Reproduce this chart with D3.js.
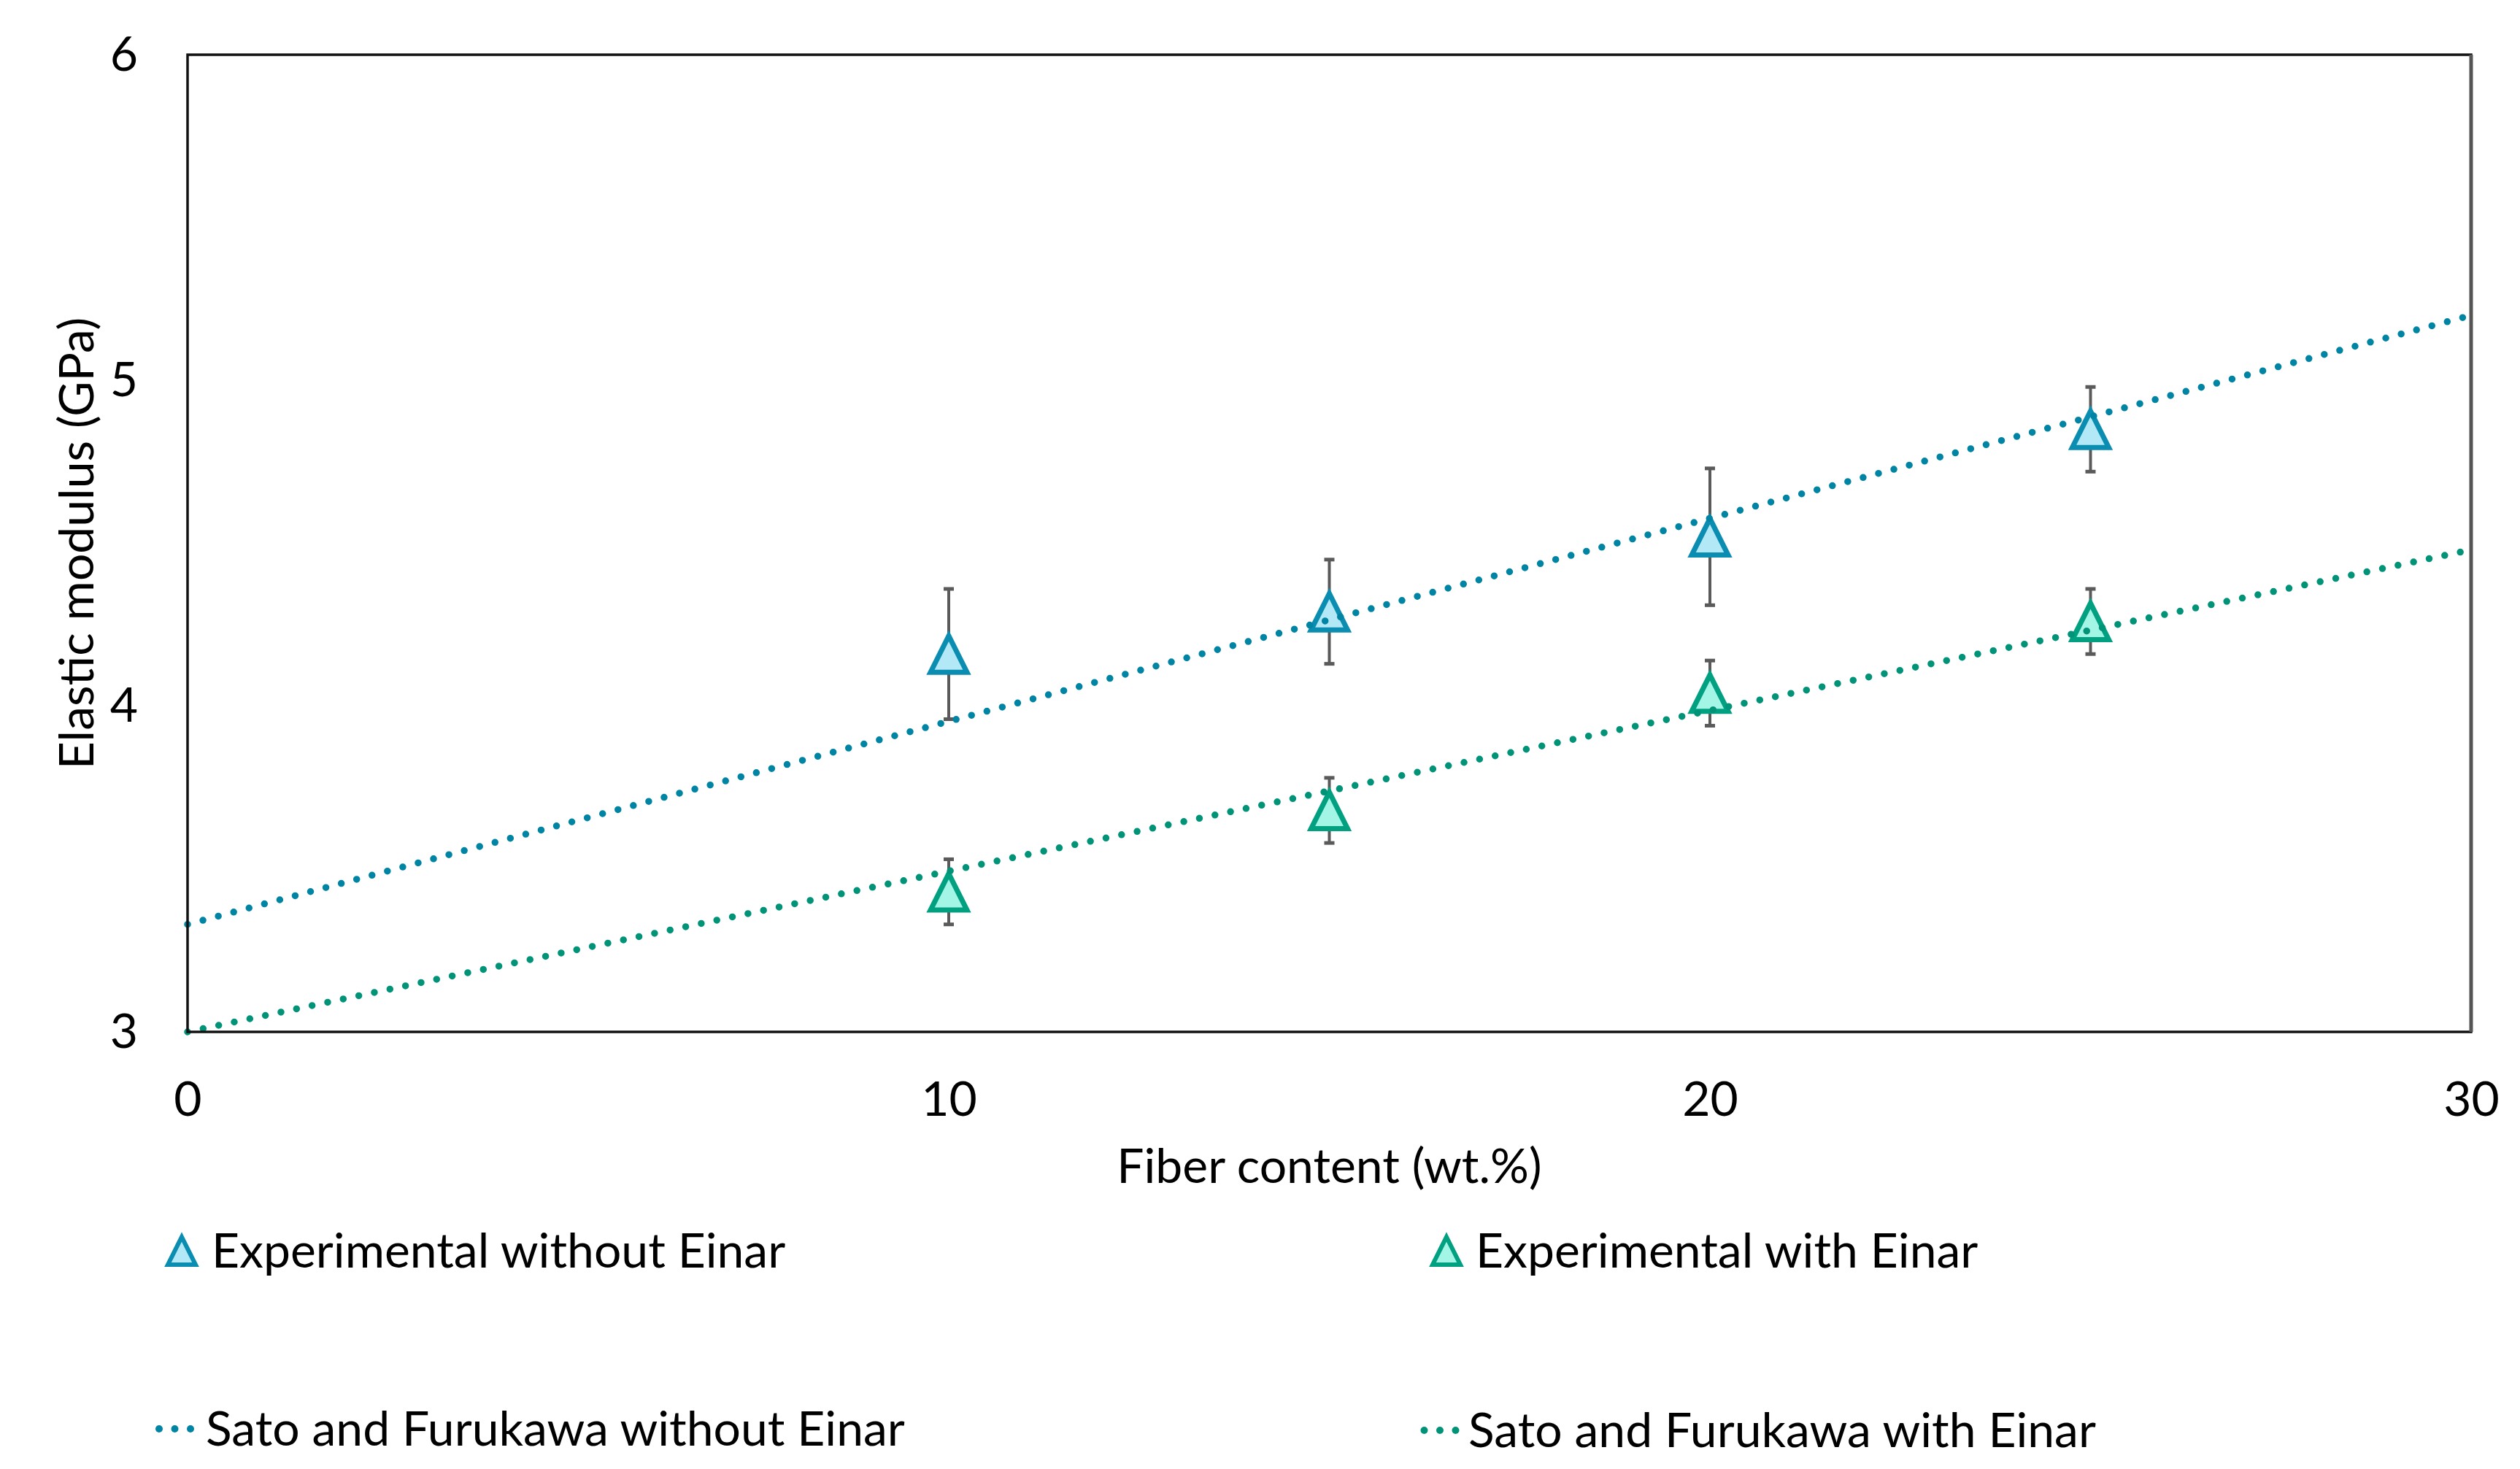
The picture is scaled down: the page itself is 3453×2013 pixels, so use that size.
<!DOCTYPE html>
<html>
<head>
<meta charset="utf-8">
<script src="https://cdn.jsdelivr.net/npm/d3@7"></script>
<style>
  html, body { margin: 0; padding: 0; background: #fff; }
  svg { display: block; }
  text { font-family: Lato, "Open Sans", sans-serif; fill: #000; }
</style>
</head>
<body>
<svg id="chart" width="3453" height="2013"></svg>
<script>
// ---- data ----
const xTicks = [0, 10, 20, 30];
const yTicks = [3, 4, 5, 6];
const fiberContent = [10, 15, 20, 25];
const expWithout = [4.16, 4.29, 4.52, 4.85];
const errWithout = [0.20, 0.16, 0.21, 0.13];
const expWith = [3.43, 3.68, 4.04, 4.26];
const errWith = [0.10, 0.10, 0.10, 0.10];
const modelX = [0, 30];
const satoWithout = [3.33, 5.20];
const satoWith = [3.00, 4.48];
const legendLabels = ["Experimental without Einar", "Experimental with Einar",
                      "Sato and Furukawa without Einar", "Sato and Furukawa with Einar"];

// ---- styles ----
const blueLine = "#0084a4", greenLine = "#009378";
const blueStroke = "#0a8db1", blueFill = "#b3e9f7";
const greenStroke = "#00a080", greenFill = "#a3f5e6";
const errColor = "#5a5a5a";
const FS = 66;

const svg = d3.select("#chart");
const margin = {left: 257, top: 75, right: 3386, bottom: 1414};
const x = d3.scaleLinear().domain([0, 30]).range([margin.left, margin.right]);
const y = d3.scaleLinear().domain([3, 6]).range([margin.bottom, margin.top]);

// axes (labels only, no tick marks)
const xAxis = svg.append("g").attr("transform", `translate(0,${margin.bottom})`)
  .call(d3.axisBottom(x).tickValues(xTicks).tickSize(0).tickPadding(68).tickFormat(d3.format("d")));
xAxis.select(".domain").remove();
xAxis.selectAll("text").attr("font-size", FS).attr("font-family", "Lato, sans-serif").attr("fill", "#000");

const yAxis = svg.append("g").attr("transform", `translate(${margin.left},0)`)
  .call(d3.axisLeft(y).tickValues(yTicks).tickSize(0).tickPadding(68).tickFormat(d3.format("d")));
yAxis.select(".domain").remove();
yAxis.selectAll("text").attr("font-size", FS).attr("font-family", "Lato, sans-serif").attr("fill", "#000");

// model lines (dotted)
function drawModel(vals, color) {
  const line = d3.line().x((d, i) => x(modelX[i])).y(d => y(d));
  svg.append("path").datum(vals).attr("d", line)
    .attr("fill", "none").attr("stroke", color).attr("stroke-width", 9.5)
    .attr("stroke-linecap", "round").attr("stroke-dasharray", "0 21.8");
}

// triangle marker
function triPath(cx, cy, w, h) {
  return `M${cx},${cy - h / 2}L${cx + w / 2},${cy + h / 2}L${cx - w / 2},${cy + h / 2}Z`;
}

function drawExp(vals, errs) {
  const g = svg.append("g");
  const pts = vals.map((v, i) => ({x: fiberContent[i], v, e: errs[i]}));
  g.selectAll("line.err").data(pts).join("line")
    .attr("x1", d => x(d.x)).attr("x2", d => x(d.x))
    .attr("y1", d => y(d.v + d.e)).attr("y2", d => y(d.v - d.e))
    .attr("stroke", errColor).attr("stroke-width", 4);
  ["t", "b"].forEach(s => {
    g.selectAll("line.cap" + s).data(pts).join("line")
      .attr("x1", d => x(d.x) - 7).attr("x2", d => x(d.x) + 7)
      .attr("y1", d => y(s === "t" ? d.v + d.e : d.v - d.e))
      .attr("y2", d => y(s === "t" ? d.v + d.e : d.v - d.e))
      .attr("stroke", errColor).attr("stroke-width", 5);
  });
  return {g, pts};
}

const expB = drawExp(expWithout, errWithout);
const expG = drawExp(expWith, errWith);
[[expB, blueStroke, blueFill], [expG, greenStroke, greenFill]].forEach(([o, s, f]) => {
  o.g.selectAll("path.tri").data(o.pts).join("path")
    .attr("d", d => triPath(x(d.x), y(d.v), 50, 50))
    .attr("fill", f).attr("stroke", s).attr("stroke-width", 7).attr("stroke-linejoin", "miter");
});
drawModel(satoWithout, blueLine);
drawModel(satoWith, greenLine);

// frame
svg.append("rect").attr("x", margin.left).attr("y", margin.top)
  .attr("width", margin.right - margin.left).attr("height", margin.bottom - margin.top)
  .attr("fill", "none").attr("stroke", "#111").attr("stroke-width", 3.5);
svg.append("line").attr("x1", margin.right).attr("x2", margin.right)
  .attr("y1", margin.top).attr("y2", margin.bottom)
  .attr("stroke", "#555").attr("stroke-width", 5);

// axis titles
svg.append("text").attr("x", (margin.left + margin.right) / 2).attr("y", 1621)
  .attr("text-anchor", "middle").attr("font-size", FS).text("Fiber content (wt.%)");
svg.append("text").attr("transform", `translate(128,${(margin.top + margin.bottom) / 2}) rotate(-90)`)
  .attr("text-anchor", "middle").attr("font-size", FS).text("Elastic modulus (GPa)");

// legend
const legend = svg.append("g");
const legItems = [
  {type: "tri", s: blueStroke, f: blueFill, mx: 249, tx: 290, cy: 1714, label: legendLabels[0]},
  {type: "tri", s: greenStroke, f: greenFill, mx: 1982, tx: 2022, cy: 1714, label: legendLabels[1]},
  {type: "dot", s: blueLine, mx: 239.5, tx: 282, cy: 1958, label: legendLabels[2]},
  {type: "dot", s: greenLine, mx: 1973, tx: 2012, cy: 1960, label: legendLabels[3]}
];
legItems.forEach(it => {
  if (it.type === "tri") {
    legend.append("path").attr("d", triPath(it.mx, it.cy, 38, 38))
      .attr("fill", it.f).attr("stroke", it.s).attr("stroke-width", 6);
  } else {
    legend.selectAll(null).data([-1, 0, 1]).join("circle")
      .attr("cx", k => it.mx + k * 21.5).attr("cy", it.cy).attr("r", 5)
      .attr("fill", it.s);
  }
  legend.append("text").attr("x", it.tx).attr("y", it.cy + 23)
    .attr("font-size", FS).text(it.label);
});
</script>
</body>
</html>
